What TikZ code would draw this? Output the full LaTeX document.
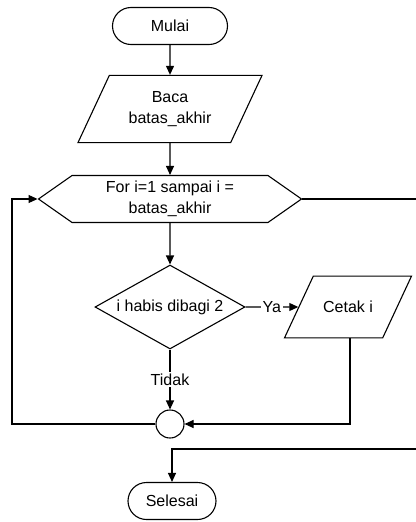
\documentclass[tikz,border=0pt]{standalone}
\usepackage{fontspec}
\setmainfont{Liberation Sans}
\usetikzlibrary{arrows.meta, positioning, calc, shapes.geometric, shapes.misc, shapes.symbols}

\begin{document}
\begin{tikzpicture}[
    x=1pt, y=-1pt,
    font=\fontsize{16}{21}\selectfont,
    terminal/.style={rounded rectangle, draw=black, line width=1.1pt, minimum height=37pt, inner sep=0pt},
    io/.style={trapezium, trapezium left angle=65, trapezium right angle=115, trapezium stretches body, draw=black, line width=1.1pt, align=center, inner xsep=0pt},
    loopbox/.style={signal, signal to=west and east, signal pointer angle=70, draw=black, line width=1.1pt, minimum width=263pt, minimum height=47pt, align=center, inner sep=0pt},
    decision/.style={diamond, aspect=1.8, draw=black, line width=1.1pt, minimum width=150pt, minimum height=84pt, inner sep=0pt},
    joint/.style={circle, draw=black, line width=1.1pt, minimum size=28pt, inner sep=0pt},
    arrow/.style={-{Triangle[length=9pt, width=8pt]}, line width=1.1pt},
    lbl/.style={fill=white, inner sep=2pt}
]
    \useasboundingbox (0,0) rectangle (415,522);

    % Nodes
    \node[terminal, minimum width=115pt] (mulai) at (170,26) {Mulai};
    \node[io, minimum width=184pt, inner ysep=16pt] (baca) at (170,109) {Baca\\batas\_akhir};
    \node[loopbox] (for) at (170,199) {For i=1 sampai i =\\batas\_akhir};
    \node[decision] (cek) at (170,307) {i habis dibagi 2};
    \node[io, minimum width=127pt, inner ysep=25pt] (cetak) at (348,307) {Cetak i};
    \node[joint] (gabung) at (170,424) {};
    \node[terminal, minimum width=88pt] (selesai) at (172,501) {Selesai};

    % Loop corners
    \coordinate (kiri) at (12,199);
    \coordinate (kananAtas) at (422,199);
    \coordinate (kananBawah) at (422,449);

    % Connectors
    \draw[arrow] (mulai) -- (baca);
    \draw[arrow] (baca) -- (for);
    \draw[arrow] (for) -- (cek);
    \draw[arrow] (cek.east) -- node[lbl] {Ya} (cetak.west);
    \draw[arrow] (cek) -- node[lbl] {Tidak} (gabung);
    \draw[arrow] ($(cetak.south)+(2,0)$) |- (gabung.east);
    \draw[arrow] (gabung.west) -| (kiri) -- (for.west);
    \draw[arrow] (for.east) -- (kananAtas) -- (kananBawah) -| (selesai.north);

\end{tikzpicture}
\end{document}
